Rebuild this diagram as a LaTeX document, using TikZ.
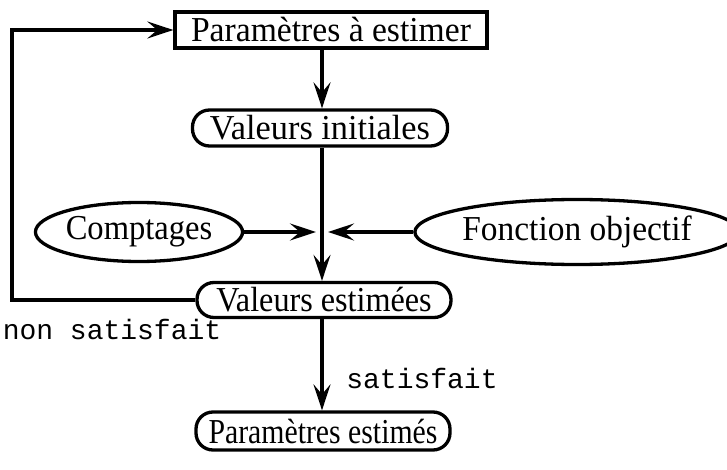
\documentclass[tikz,border=0pt]{standalone}
\usepackage{graphicx}
\usepackage{fontspec}
\setmainfont{Liberation Serif}
\setmonofont{Liberation Mono}
\usetikzlibrary{arrows.meta,shapes.geometric}
\newcommand{\nrw}[2]{\scalebox{#1}[1]{#2}}
\begin{document}
\begin{tikzpicture}[x=1pt,y=-1pt,
  line width=3.3pt,
  every node/.style={inner sep=0pt,font=\fontsize{35}{38}\selectfont},
  sqbox/.style={draw,rectangle,minimum width=312pt,minimum height=36pt},
  rbox/.style={draw,rectangle,rounded corners=17pt,minimum width=255pt,minimum height=36pt},
  ell/.style={draw,ellipse},
  lab/.style={font=\fontsize{28}{30}\selectfont\ttfamily},
  arr/.style={-{Stealth[length=26pt,width=17pt,inset=10pt]}}
]
\useasboundingbox (0,0) rectangle (727,470);
\node[sqbox] (pa) at (331,30) {\nrw{0.96}{Paramètres à estimer}};
\node[rbox] (vi) at (320,128) {\nrw{0.98}{Valeurs initiales}};
\node[ell,minimum width=182pt,minimum height=59pt] (co) at (139,232) {\nrw{0.93}{Comptages}};
\node[ell,minimum width=281pt,minimum height=65pt] (fo) at (577,232) {\nrw{0.955}{Fonction objectif}};
\node[rbox,minimum width=254pt,minimum height=35pt] (ve) at (324,300) {\nrw{0.92}{Valeurs estimées}};
\node[rbox,minimum width=254pt,minimum height=38pt] (pe) at (323,431) {\nrw{0.85}{Paramètres estimés}};
\node[lab] (ns) at (112,329) {non satisfait};
\node[lab] (sa) at (422,378) {satisfait};
\coordinate (ax) at (322,0);
\coordinate (j1) at (316,232);
\coordinate (j2) at (328,232);
\coordinate (lp) at (12,0);
\draw[arr] (pa.south -| ax) -- (vi.north -| ax);
\draw[arr] (vi.south -| ax) -- (ve.north -| ax);
\draw[arr] (co.east) -- (j1);
\draw[arr] (fo.west) -- (j2);
\draw[arr] (ve.west) -- (ve.west -| lp) -- (pa.west -| lp) -- (pa.west);
\draw[arr] (ve.south -| ax) -- (pe.north -| ax);
\end{tikzpicture}
\end{document}
